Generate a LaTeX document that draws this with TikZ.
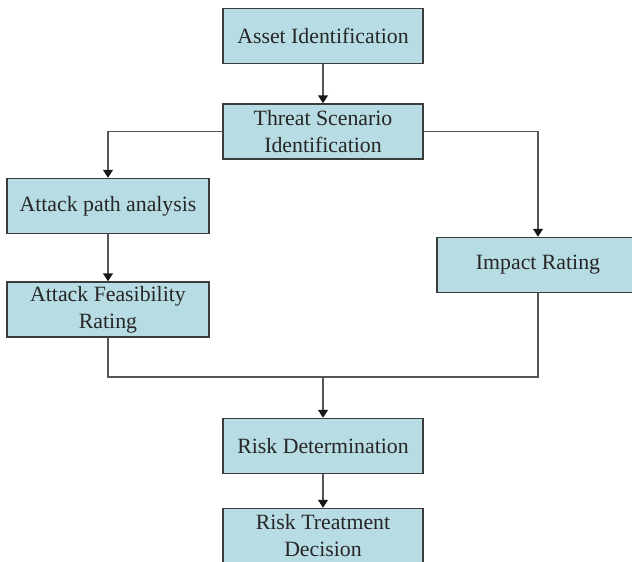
\documentclass[tikz,border=0pt]{standalone}
\usepackage{fontspec}
\setmainfont{Liberation Serif}
\usetikzlibrary{arrows.meta}
\definecolor{boxfill}{RGB}{184,220,228}
\definecolor{boxline}{RGB}{60,60,60}
\definecolor{linkline}{RGB}{85,85,85}
\tikzset{
  stagebox/.style={draw=boxline, line width=1.5pt, fill=boxfill,
    minimum width=200pt, minimum height=55pt, inner sep=0pt,
    align=center, text=black!85, font=\fontsize{21.8}{27}\selectfont},
  link/.style={draw=linkline, line width=1.5pt},
  flow/.style={link, -{Triangle[width=10pt,length=8pt,color=black!90]}}
}
\begin{document}
\begin{tikzpicture}[x=1pt,y=-1pt]
  \useasboundingbox (0,0) rectangle (632,562);
  \clip (0,0) rectangle (632,562);
  \fill[white] (0,0) rectangle (632,562);

  % stages of the analysis
  \node[stagebox] (asset)  at (323,36)    {Asset Identification};
  \node[stagebox] (threat) at (323,131.5) {Threat Scenario\\Identification};
  \node[stagebox, minimum width=202pt] (path) at (108,206)   {Attack path analysis};
  \node[stagebox, minimum width=202pt] (feas) at (108,309.5) {Attack Feasibility\\Rating};
  \node[stagebox, minimum width=202pt] (impact) at (538,265) {Impact Rating};
  \node[stagebox] (riskdet) at (323,446) {Risk Determination};
  \node[stagebox] (treat)   at (323,536) {Risk Treatment\\Decision};

  % junction where both ratings meet
  \coordinate (merge) at (323,377);

  % connectors
  \draw[flow] (asset) -- (threat);
  \draw[flow] (threat.west) -| (path.north);
  \draw[flow] (threat.east) -| (impact.north);
  \draw[flow] (path) -- (feas);
  \draw[link] (feas.south) |- (merge) -| (impact.south);
  \draw[flow] (merge) -- (riskdet.north);
  \draw[flow] (riskdet) -- (treat);
\end{tikzpicture}
\end{document}
